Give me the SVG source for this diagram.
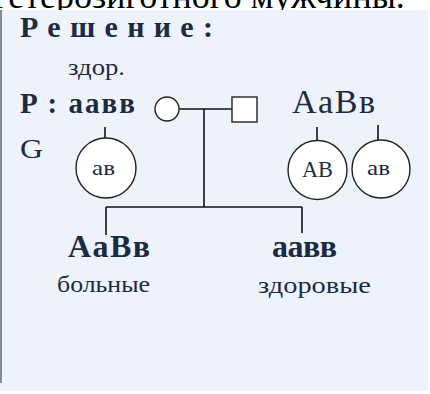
<svg xmlns="http://www.w3.org/2000/svg" width="430" height="394" viewBox="0 0 430 394">
<defs><clipPath id="topclip"><rect x="0" y="0" width="430" height="10"/></clipPath></defs>
<style>
.t{font-family:"Liberation Serif","Times New Roman",serif;fill:#1c2b3f}
.b{font-weight:bold}
.ln{stroke:#111;stroke-width:1.6;fill:none}
.sh{stroke:#222;stroke-width:1.4;fill:#fff}
</style>
<rect x="0" y="0" width="430" height="394" fill="#fff"/>
<g clip-path="url(#topclip)"><text x="-6" y="8" font-family="'Liberation Serif',serif" font-size="36" fill="#000">гетерозиготного мужчины.</text></g>
<rect x="0" y="10" width="428" height="381" fill="#eef2fb"/>
<line x1="1" y1="10" x2="1" y2="383" stroke="#7f8c9c" stroke-width="2"/>
<text class="t b" x="20" y="37" font-size="30" textLength="193" lengthAdjust="spacing">Решение:</text>
<g id="connectors">
<line class="ln" x1="179" y1="109" x2="232" y2="109"/>
<line class="ln" x1="204" y1="109" x2="204" y2="207"/>
<line class="ln" x1="106" y1="207" x2="302" y2="207"/>
<line class="ln" x1="106" y1="207" x2="106" y2="235"/>
<line class="ln" x1="302" y1="207" x2="302" y2="233"/>
<line class="ln" x1="105" y1="127" x2="105" y2="138"/>
<line class="ln" x1="317" y1="127" x2="317" y2="140"/>
<line class="ln" x1="378" y1="125" x2="378" y2="140"/>
</g>
<g id="mother-label">
<text class="t" x="68" y="75" font-size="24" textLength="57" lengthAdjust="spacingAndGlyphs">здор.</text>
<text class="t b" x="20" y="113" font-size="29" textLength="115" lengthAdjust="spacing">P : аавв</text>
</g>
<g id="g-label"><text class="t" x="20" y="158" font-size="28" textLength="23" lengthAdjust="spacingAndGlyphs">G</text></g>
<g id="female"><circle class="sh" cx="167" cy="109" r="12"/></g>
<g id="male"><rect class="sh" x="232" y="97" width="25" height="25"/></g>
<g id="father-label"><text class="t" x="292" y="113" font-size="34" textLength="83" lengthAdjust="spacing">AaBв</text></g>
<g id="gamete-mother">
<circle class="sh" cx="106" cy="168" r="30"/>
<text class="t" x="92" y="175" font-size="22" textLength="23" lengthAdjust="spacingAndGlyphs">ав</text>
</g>
<g id="gamete-father-AB">
<circle class="sh" cx="317.5" cy="170" r="29.5"/>
<text class="t" x="302" y="177" font-size="23" textLength="31" lengthAdjust="spacingAndGlyphs">AB</text>
</g>
<g id="gamete-father-ab">
<circle class="sh" cx="381" cy="169" r="29"/>
<text class="t" x="367" y="175" font-size="22" textLength="23" lengthAdjust="spacingAndGlyphs">ав</text>
</g>
<g id="child-sick">
<text class="t b" x="68" y="257" font-size="32" textLength="82" lengthAdjust="spacing">AaBв</text>
<text class="t" x="57" y="292" font-size="24" textLength="93" lengthAdjust="spacingAndGlyphs">больные</text>
</g>
<g id="child-healthy">
<text class="t b" x="272" y="257" font-size="32" textLength="65" lengthAdjust="spacing">аавв</text>
<text class="t" x="258" y="293" font-size="24" textLength="113" lengthAdjust="spacingAndGlyphs">здоровые</text>
</g>
</svg>
